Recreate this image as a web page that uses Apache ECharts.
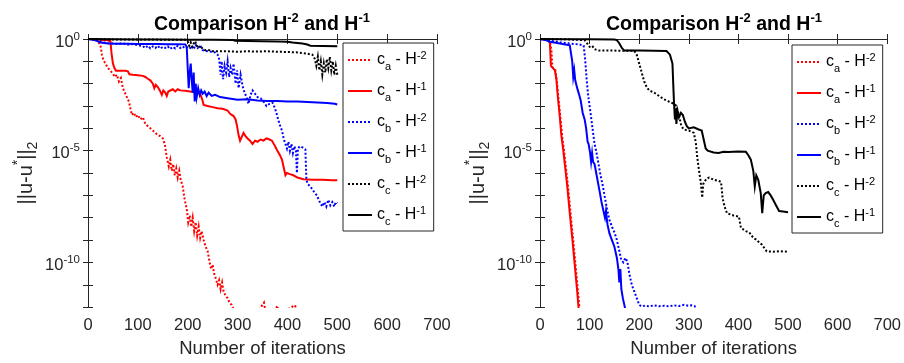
<!DOCTYPE html>
<html>
<head>
<meta charset="utf-8">
<script src="https://cdn.jsdelivr.net/npm/echarts@6/dist/echarts.min.js"></script>
<style>html,body{margin:0;padding:0;background:#fff}#c{width:904px;height:363px}</style>
</head>
<body>
<div id="c"></div>
<script>
// values are log10(||u-u*||_2) against iteration number
const seriesNames = ['ca-H2', 'ca-H1', 'cb-H2', 'cb-H1', 'cc-H2', 'cc-H1'];
const xTicks = [0, 100, 200, 300, 400, 500, 600, 700];
const yLabelExponents = [0, -5, -10];

const leftCaH2 = [[0,0],[10,-0.01],[18,-0.03],[22,-0.08],[25,-0.3],[28,-0.7],[31,-0.95],[35,-1.1],[40,-1.3],[44,-1.4],[50,-1.55],[54,-1.7],[58,-1.6],[62,-1.9],[66,-1.75],[70,-2.2],[74,-2.4],[78,-2.6],[82,-2.8],[85,-3.1],[88,-3.4],[92,-3.3],[96,-3.5],[100,-3.4],[105,-3.6],[110,-3.5],[115,-3.8],[120,-3.9],[125,-4.0],[130,-4.1],[135,-4.2],[140,-4.3],[145,-4.35],[150,-4.45],[154,-4.7],[158,-5.3],[162,-5.7],[165,-5.4],[168,-5.9],[171,-5.6],[174,-6.1],[177,-5.8],[180,-6.2],[183,-5.9],[186,-6.3],[190,-6.6],[194,-7.2],[198,-7.6],[201,-8.2],[204,-7.9],[207,-8.4],[210,-8.0],[213,-8.6],[216,-8.2],[219,-8.8],[222,-8.4],[225,-8.9],[228,-8.6],[232,-9.0],[236,-9.3],[240,-9.5],[244,-10.0],[247,-10.3],[250,-10.1],[253,-10.5],[256,-10.7],[260,-11.0],[263,-10.8],[266,-11.2],[269,-10.9],[272,-11.3],[276,-11.5],[280,-11.6],[284,-11.8],[288,-11.9],[292,-12.1],[300,-12.3],[320,-12.4],[340,-12.2],[350,-11.9],[353,-11.8],[356,-12.2],[370,-12.3],[380,-11.95],[385,-12.3],[400,-12.1],[415,-11.92],[420,-12.2],[440,-12.5],[500,-12.6]];
const leftCaH1 = [[0,0],[10,-0.01],[20,-0.02],[30,-0.04],[40,-0.06],[45,-0.1],[47,-0.6],[50,-1.1],[53,-1.3],[56,-1.42],[65,-1.42],[75,-1.42],[80,-1.45],[83,-1.58],[90,-1.6],[100,-1.62],[110,-1.65],[115,-1.7],[120,-1.78],[125,-1.85],[130,-2.0],[133,-2.2],[136,-2.05],[140,-2.15],[144,-2.3],[148,-2.5],[151,-2.3],[155,-2.4],[158,-2.55],[161,-2.35],[165,-2.3],[170,-2.25],[175,-2.35],[180,-2.25],[185,-2.3],[195,-2.32],[205,-2.35],[215,-2.4],[225,-2.45],[229,-2.7],[232,-2.95],[240,-3.0],[250,-3.05],[260,-3.1],[270,-3.12],[280,-3.2],[285,-3.35],[292,-3.45],[296,-3.6],[299,-3.9],[302,-4.3],[305,-4.55],[308,-4.4],[312,-4.2],[316,-4.35],[320,-4.45],[325,-4.55],[330,-4.7],[335,-4.55],[340,-4.6],[346,-4.5],[352,-4.55],[358,-4.45],[364,-4.5],[369,-4.55],[374,-4.75],[379,-4.97],[385,-5.2],[389,-5.4],[393,-5.8],[396,-6.1],[399,-6.0],[405,-6.05],[412,-6.1],[420,-6.2],[432,-6.28],[450,-6.3],[470,-6.3],[490,-6.32],[500,-6.32]];
const leftCbH2 = [[0,0],[10,-0.02],[20,-0.06],[25,-0.12],[30,-0.15],[40,-0.18],[50,-0.2],[60,-0.22],[70,-0.2],[80,-0.25],[90,-0.22],[100,-0.28],[110,-0.32],[115,-0.4],[120,-0.3],[125,-0.42],[130,-0.33],[135,-0.4],[140,-0.3],[145,-0.43],[150,-0.35],[155,-0.4],[160,-0.33],[165,-0.45],[170,-0.35],[175,-0.42],[180,-0.3],[185,-0.4],[190,-0.33],[195,-0.42],[200,-0.35],[205,-0.4],[208,-0.3],[212,-0.45],[216,-0.25],[220,-0.4],[225,-0.3],[230,-0.5],[240,-0.55],[250,-0.58],[255,-0.6],[260,-0.7],[263,-0.9],[266,-1.6],[268,-1.0],[271,-1.8],[274,-1.2],[277,-1.5],[280,-1.0],[283,-1.7],[286,-1.3],[289,-1.6],[292,-1.1],[296,-2.0],[299,-1.4],[302,-2.2],[306,-1.6],[310,-2.1],[314,-2.4],[318,-2.6],[322,-2.9],[326,-2.5],[330,-2.3],[335,-2.45],[340,-2.6],[346,-2.65],[352,-2.8],[358,-3.0],[364,-2.9],[370,-2.85],[375,-3.1],[379,-3.4],[384,-3.8],[389,-4.1],[393,-4.5],[396,-4.7],[399,-4.9],[402,-4.6],[405,-5.0],[408,-4.7],[411,-5.1],[414,-4.8],[417,-5.0],[419,-6.0],[421,-4.9],[425,-4.8],[430,-4.85],[436,-4.95],[438,-6.3],[441,-6.5],[446,-6.6],[452,-6.8],[459,-7.0],[463,-7.2],[466,-7.35],[470,-7.5],[474,-7.3],[478,-7.5],[482,-7.2],[486,-7.45],[490,-7.3],[494,-7.5],[497,-7.3],[500,-7.35]];
const leftCbH1 = [[0,0],[10,-0.03],[20,-0.1],[25,-0.16],[40,-0.2],[60,-0.21],[80,-0.21],[100,-0.22],[120,-0.22],[140,-0.22],[160,-0.23],[180,-0.23],[195,-0.24],[198,-0.35],[200,-1.3],[202,-2.2],[204,-1.5],[206,-1.1],[208,-1.8],[210,-2.4],[212,-1.5],[214,-2.8],[216,-2.0],[218,-2.6],[221,-2.2],[224,-2.5],[227,-2.3],[230,-2.45],[234,-2.35],[238,-2.55],[242,-2.4],[248,-2.55],[255,-2.5],[265,-2.6],[280,-2.65],[300,-2.72],[320,-2.7],[340,-2.75],[360,-2.78],[380,-2.78],[400,-2.8],[420,-2.8],[440,-2.82],[460,-2.84],[480,-2.86],[495,-2.9],[500,-2.93]];
const leftCcH2 = [[0,0],[20,-0.01],[50,-0.02],[100,-0.02],[150,-0.03],[195,-0.03],[200,-0.1],[203,-0.3],[206,-0.15],[209,-0.35],[212,-0.2],[215,-0.1],[218,-0.3],[222,-0.4],[226,-0.3],[230,-0.45],[235,-0.5],[240,-0.48],[250,-0.55],[260,-0.55],[280,-0.55],[300,-0.57],[320,-0.55],[340,-0.56],[360,-0.55],[380,-0.57],[400,-0.58],[420,-0.6],[440,-0.66],[450,-0.7],[455,-0.9],[458,-1.2],[461,-0.8],[464,-1.4],[467,-1.0],[470,-1.6],[473,-1.1],[476,-1.5],[479,-0.9],[482,-1.3],[485,-0.8],[488,-1.4],[491,-1.0],[494,-1.6],[497,-1.2],[500,-1.6]];
const leftCcH1 = [[0,0],[50,-0.01],[100,-0.02],[150,-0.02],[200,-0.03],[250,-0.03],[290,-0.04],[295,-0.08],[320,-0.09],[350,-0.1],[380,-0.11],[400,-0.12],[410,-0.16],[430,-0.2],[440,-0.25],[446,-0.3],[470,-0.31],[500,-0.32]];

const rightCaH2 = [[0,0],[10,-0.02],[20,-0.08],[23,-0.5],[25,-1.25],[31,-1.4],[34,-1.9],[37,-2.6],[41,-3.5],[45,-4.4],[49,-5.1],[52,-5.7],[57,-6.7],[62,-7.9],[67,-9.0],[72,-10.2],[77,-11.4],[80,-12.2],[82,-12.6]];
const rightCaH1 = [[0,0],[10,-0.01],[17,-0.04],[20,-0.2],[22,-1.2],[26,-1.3],[30,-1.4],[33,-1.8],[36,-2.6],[40,-3.5],[43,-4.3],[47,-5.0],[50,-5.6],[55,-6.6],[60,-7.8],[65,-8.9],[70,-10.1],[75,-11.3],[78,-12.1],[80,-12.5]];
const rightCbH2 = [[0,0],[20,-0.08],[40,-0.15],[60,-0.2],[80,-0.25],[88,-0.3],[91,-0.9],[94,-1.8],[97,-2.5],[100,-3.0],[103,-3.5],[107,-4.2],[110,-4.7],[114,-5.1],[118,-5.6],[122,-6.1],[126,-6.5],[130,-7.0],[135,-7.6],[140,-8.1],[145,-8.4],[150,-8.65],[155,-9.0],[160,-9.5],[164,-9.9],[168,-10.0],[172,-9.8],[176,-9.95],[180,-10.5],[185,-11.0],[190,-11.3],[195,-11.6],[200,-11.9],[205,-11.97],[212,-11.93],[220,-11.97],[230,-11.92],[240,-11.96],[250,-11.94],[260,-11.97],[270,-11.92],[280,-11.95],[290,-11.9],[300,-11.94],[305,-11.92],[312,-11.96],[315,-12.5],[500,-12.6]];
const rightCbH1 = [[0,0],[10,-0.04],[20,-0.12],[40,-0.2],[60,-0.28],[63,-0.35],[65,-1.0],[67,-1.7],[69,-1.4],[71,-1.85],[75,-2.2],[79,-2.5],[82,-2.75],[86,-3.3],[90,-3.6],[93,-4.0],[96,-4.6],[98,-4.7],[101,-5.1],[103,-5.5],[105,-5.1],[107,-5.5],[110,-5.6],[115,-6.2],[120,-6.8],[124,-7.3],[128,-7.7],[131,-8.0],[133,-7.7],[136,-8.3],[140,-8.7],[145,-9.0],[150,-9.3],[155,-9.8],[158,-10.3],[160,-10.9],[162,-10.3],[164,-11.2],[167,-11.6],[170,-11.9],[173,-12.2],[176,-12.5]];
const rightCcH2 = [[0,0],[50,-0.01],[90,-0.05],[95,-0.2],[100,-0.35],[105,-0.3],[110,-0.45],[115,-0.5],[120,-0.52],[150,-0.52],[190,-0.53],[195,-0.7],[200,-1.1],[205,-1.5],[210,-1.9],[215,-2.15],[220,-2.3],[230,-2.4],[240,-2.55],[250,-2.7],[260,-2.8],[270,-2.9],[275,-3.0],[280,-3.4],[285,-3.9],[290,-4.05],[300,-4.1],[310,-4.2],[314,-4.6],[317,-5.3],[320,-5.8],[324,-6.4],[327,-7.1],[329,-6.5],[331,-6.4],[336,-6.25],[341,-6.2],[350,-6.3],[360,-6.35],[365,-6.4],[368,-7.1],[372,-7.5],[377,-7.8],[390,-7.9],[401,-7.95],[405,-8.45],[415,-8.6],[422,-8.66],[430,-8.9],[435,-8.97],[447,-9.2],[457,-9.5],[470,-9.52],[485,-9.5],[500,-9.52]];
const rightCcH1 = [[0,0],[50,-0.01],[100,-0.01],[150,-0.02],[155,-0.05],[160,-0.2],[165,-0.4],[170,-0.52],[200,-0.52],[230,-0.53],[255,-0.54],[262,-0.7],[267,-1.1],[270,-2.8],[272,-3.6],[273,-3.1],[275,-3.8],[277,-3.2],[280,-3.5],[284,-3.3],[288,-3.4],[292,-3.7],[296,-3.9],[300,-4.0],[310,-3.95],[320,-4.05],[326,-4.1],[330,-4.5],[334,-4.9],[338,-5.0],[350,-5.08],[360,-5.1],[370,-5.05],[380,-5.06],[400,-5.04],[415,-5.05],[420,-5.2],[425,-5.4],[430,-5.9],[433,-6.6],[436,-6.1],[440,-6.3],[445,-6.9],[448,-7.8],[451,-7.0],[455,-6.9],[460,-6.85],[465,-7.0],[470,-7.2],[476,-7.45],[482,-7.7],[490,-7.72],[500,-7.75]];

const FONT = 'Liberation Sans';
const AX = '#262626';
const colors = { a: '#ff0000', b: '#0000ff', c: '#000000' };

const legendRich = {
  n: { fontSize: 16, lineHeight: 24, fontFamily: FONT, color: '#000' },
  sub: { fontSize: 11, lineHeight: 12, padding: [13, 0, 0, 0], fontFamily: FONT, color: '#000' },
  sup: { fontSize: 11, lineHeight: 12, padding: [2, 0, 10, 0], fontFamily: FONT, color: '#000' }
};
function legendLabel(name) {
  const letter = name.charAt(1);
  const pow = name.slice(-1);
  return '{n|c}{sub|' + letter + '}{n| - H}{sup|-' + pow + '}';
}

function makeTitle(cx) {
  return {
    text: '{b|Comparison H}{s|-2}{b| and H}{s|-1}',
    left: cx, top: 12, textAlign: 'center', padding: 0,
    textStyle: {
      rich: {
        b: { fontSize: 19.5, fontWeight: 'bold', lineHeight: 26, fontFamily: FONT, color: '#000' },
        s: { fontSize: 13, fontWeight: 'bold', lineHeight: 12, padding: [0, 0, 14, 0], fontFamily: FONT, color: '#000' }
      }
    }
  };
}

function xAxes(gi) {
  const base = { type: 'value', gridIndex: gi, min: 0, max: 700, interval: 100 };
  return [
    Object.assign({}, base, {
      position: 'bottom',
      axisLine: { lineStyle: { color: AX, width: 1 } },
      axisTick: { inside: true, length: 5, lineStyle: { color: AX } },
      axisLabel: { fontSize: 16.5, fontFamily: FONT, color: AX, margin: 10 },
      splitLine: { show: false },
      name: 'Number of iterations', nameLocation: 'middle', nameGap: 29,
      nameTextStyle: { fontSize: 18.5, fontFamily: FONT, color: AX }
    }),
    Object.assign({}, base, {
      position: 'top',
      axisLine: { lineStyle: { color: AX, width: 1 } },
      axisTick: { inside: true, length: 5, lineStyle: { color: AX } },
      axisLabel: { show: false }, splitLine: { show: false }
    })
  ];
}
function yAxes(gi) {
  const base = { type: 'value', gridIndex: gi, min: -12, max: 0, interval: 1 };
  return [
    Object.assign({}, base, {
      position: 'left',
      axisLine: { lineStyle: { color: AX, width: 1 } },
      axisTick: { inside: true, length: 5, lineStyle: { color: AX } },
      splitLine: { show: false },
      axisLabel: {
        margin: 8, color: AX,
        formatter: function (v) { return yLabelExponents.indexOf(v) >= 0 ? '{b|10}{s|' + v + '}' : ''; },
        rich: {
          b: { fontSize: 16.5, lineHeight: 16, padding: [6, 0, 0, 0], fontFamily: FONT, color: AX },
          s: { fontSize: 11.5, lineHeight: 11, padding: [3, 0, 8, 0], fontFamily: FONT, color: AX }
        }
      },
      name: '{n|||u-u}{sup|*}{n|||}{sub|2}', nameLocation: 'middle', nameGap: 48, nameRotate: 90,
      nameTextStyle: {
        rich: {
          n: { fontSize: 20, lineHeight: 28, fontFamily: FONT, color: AX },
          sup: { fontSize: 14, lineHeight: 13, padding: [0, 0, 15, 0], fontFamily: FONT, color: AX },
          sub: { fontSize: 14, lineHeight: 13, padding: [15, 0, 0, 0], fontFamily: FONT, color: AX }
        }
      }
    }),
    Object.assign({}, base, {
      position: 'right',
      axisLine: { lineStyle: { color: AX, width: 1 } },
      axisTick: { inside: true, length: 5, lineStyle: { color: AX } },
      axisLabel: { show: false }, splitLine: { show: false }
    })
  ];
}

function makeSeries(data, name, axisIdx) {
  const col = colors[name.charAt(1)];
  const dotted = name.slice(-1) === '2';
  return {
    type: 'line', name: name, data: data,
    xAxisIndex: axisIdx, yAxisIndex: axisIdx,
    symbol: 'none', showSymbol: false, clip: true, animation: false,
    lineStyle: { color: col, width: 2, type: dotted ? 'dotted' : 'solid', cap: 'butt', join: 'miter' },
    itemStyle: { color: col }
  };
}

function makeLegend(left, top) {
  return {
    orient: 'vertical', left: left, top: top,
    data: seriesNames.map(function (n) { return { name: n }; }),
    itemWidth: 24, itemHeight: 12, itemGap: 7,
    padding: [5, 7, 4, 4],
    borderColor: AX, borderWidth: 1, backgroundColor: '#fff',
    selectedMode: false,
    itemStyle: { opacity: 0, borderWidth: 0 },
    formatter: legendLabel,
    textStyle: { rich: legendRich }
  };
}

const leftSet = [leftCaH2, leftCaH1, leftCbH2, leftCbH1, leftCcH2, leftCcH1];
const rightSet = [rightCaH2, rightCaH1, rightCbH2, rightCbH1, rightCcH2, rightCcH1];
const series = [];
leftSet.forEach(function (d, i) { series.push(makeSeries(d, seriesNames[i], 0)); });
rightSet.forEach(function (d, i) { series.push(makeSeries(d, seriesNames[i], 2)); });

const chart = echarts.init(document.getElementById('c'), null, { renderer: 'canvas' });
chart.setOption({
  animation: false,
  backgroundColor: '#fff',
  title: [makeTitle(262), makeTitle(714)],
  grid: [
    { left: 88, right: 467, top: 39, bottom: 48, containLabel: false },
    { left: 540, right: 15, top: 39, bottom: 48, containLabel: false }
  ],
  xAxis: xAxes(0).concat(xAxes(1)),
  yAxis: yAxes(0).concat(yAxes(1)),
  legend: [makeLegend(343, 43), makeLegend(792, 45)],
  series: series
});
</script>
</body>
</html>
